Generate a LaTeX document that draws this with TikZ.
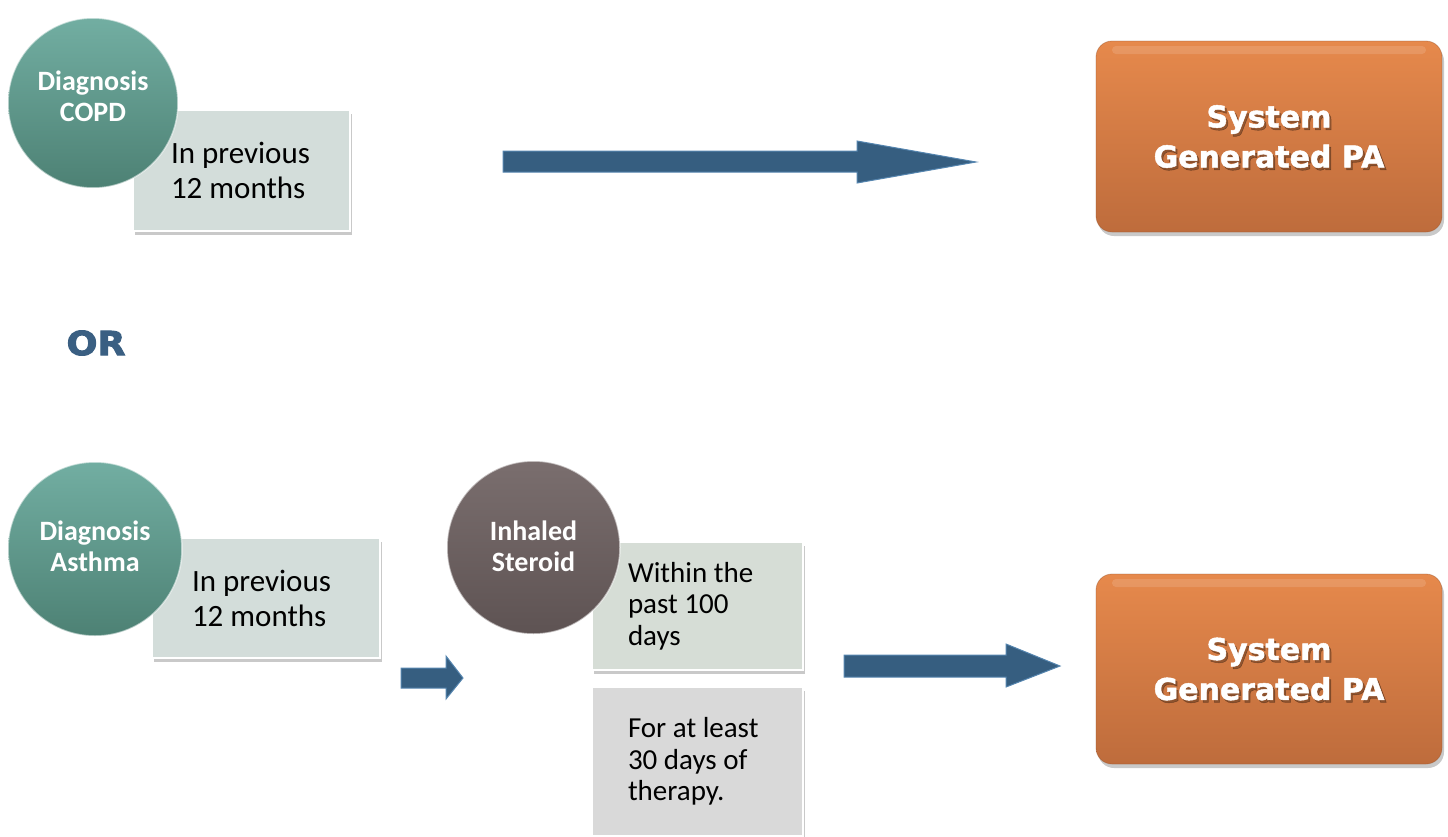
\documentclass[tikz,border=0pt]{standalone}
\usepackage{fontspec}
\setmainfont{Carlito}[BoldFont={Carlito Bold}]
\newfontfamily\verdb{DejaVu Sans Bold}[FakeBold=1.6]
\newfontfamily\orfont{DejaVu Sans Bold}[FakeBold=3, FakeStretch=1.1]
\usetikzlibrary{shadows}
\definecolor{tealT}{HTML}{72AEA2}
\definecolor{tealB}{HTML}{4D8174}
\definecolor{brnT}{HTML}{7A6E6E}
\definecolor{brnB}{HTML}{5E5353}
\definecolor{boxA}{HTML}{D3DDDA}
\definecolor{boxB}{HTML}{D6DDD6}
\definecolor{boxC}{HTML}{D9D9D9}
\definecolor{arrF}{HTML}{365E80}
\definecolor{arrE}{HTML}{5585AF}
\definecolor{orT}{HTML}{E6894C}
\definecolor{orB}{HTML}{BE6C3C}
\definecolor{orText}{HTML}{3A5F82}
\begin{document}
\begin{tikzpicture}[x=1pt,y=-1pt,
  circbase/.style={circle, inner sep=0pt, draw=white, draw opacity=0.55, line width=1.5pt},
  tealcirc/.style={circbase, top color=tealT, bottom color=tealB},
  browncirc/.style={circbase, top color=brnT, bottom color=brnB},
  circtext/.style={text=white, align=center, inner sep=0pt, font=\bfseries\fontsize{28}{31}\selectfont},
  greybox/.style={rectangle, inner sep=0pt, draw=white, line width=1.2pt, align=flush left,
     font=\fontsize{31}{35}\selectfont,
     drop shadow={shadow xshift=2pt, shadow yshift=-4pt, opacity=0.3, fill=black!70}},
  stepbox/.style={greybox, inner xsep=36pt, text width=139pt, minimum width=211pt,
     font=\fontsize{29}{31.5}\selectfont},
  pabox/.style={rectangle, rounded corners=16pt, minimum width=346pt, top color=orT, bottom color=orB,
     draw=orB!80!black, draw opacity=0.4, line width=0.8pt,
     drop shadow={shadow xshift=2pt, shadow yshift=-4pt, opacity=0.3, fill=black!70}},
  patext/.style={text=white, align=center, inner sep=0pt, font=\verdb\fontsize{30}{40}\selectfont},
  pashadow/.style={patext, text=black, opacity=0.3},
  bigarrow/.style={fill=arrF, draw=arrE, line width=1pt, line join=miter}
]
\useasboundingbox (0,0) rectangle (1448,836);
\clip (0,0) rectangle (1448,836);

% ---- top row ----
\node[greybox, fill=boxA, inner xsep=38pt, text width=141pt, minimum width=217pt, minimum height=121pt] (box1) at (241.5,170.5) {In previous\\12 months};
\node[tealcirc, minimum size=170pt] (copd) at (93,103) {};
\node[circtext] (copdt) at (93,96) {Diagnosis\\COPD};

\draw[bigarrow] (503,151) -- (857,151) -- (857,141) -- (976,162) -- (857,183) -- (857,172) -- (503,172) -- cycle;

\node[pabox, minimum height=191pt] (pa1) at (1269,136.5) {};
\fill[white, opacity=0.13, rounded corners=4pt] (1112,46) rectangle (1426,54);
\node[pashadow] (pa1s) at (1271,139) {System\\Generated PA};
\node[patext] (pa1t) at (1269,136.5) {System\\Generated PA};

% ---- OR ----
\node[text=orText, font=\orfont\fontsize{33}{36}\selectfont, inner sep=0pt] (or) at (96,343) {OR};

% ---- bottom row ----
\node[greybox, fill=boxA, inner xsep=40pt, text width=148pt, minimum width=228pt, minimum height=120pt] (box2) at (266,598) {In previous\\12 months};
\node[tealcirc, minimum size=174pt] (asthma) at (95,549) {};
\node[circtext] (asthmat) at (95,546) {Diagnosis\\Asthma};

\draw[bigarrow] (401,668) -- (446,668) -- (446,656) -- (463,678) -- (446,699) -- (446,688) -- (401,688) -- cycle;

\node[stepbox, fill=boxB, minimum height=128pt] (within) at (697.5,606) {Within the\\past 100\\days};
\node[stepbox, fill=boxC, minimum height=149pt] (atleast) at (697.5,761.5) {For at least\\30 days of\\therapy.};
\node[browncirc, minimum size=173pt] (steroid) at (533.5,547.5) {};
\node[circtext] (steroidt) at (533.5,546) {Inhaled\\Steroid};

\draw[bigarrow] (844,655) -- (1006,655) -- (1006,644) -- (1060,666) -- (1006,687) -- (1006,677) -- (844,677) -- cycle;

\node[pabox, minimum height=190pt] (pa2) at (1269,669) {};
\fill[white, opacity=0.13, rounded corners=4pt] (1112,579) rectangle (1426,587);
\node[pashadow] (pa2s) at (1271,671.5) {System\\Generated PA};
\node[patext] (pa2t) at (1269,669) {System\\Generated PA};
\end{tikzpicture}
\end{document}
